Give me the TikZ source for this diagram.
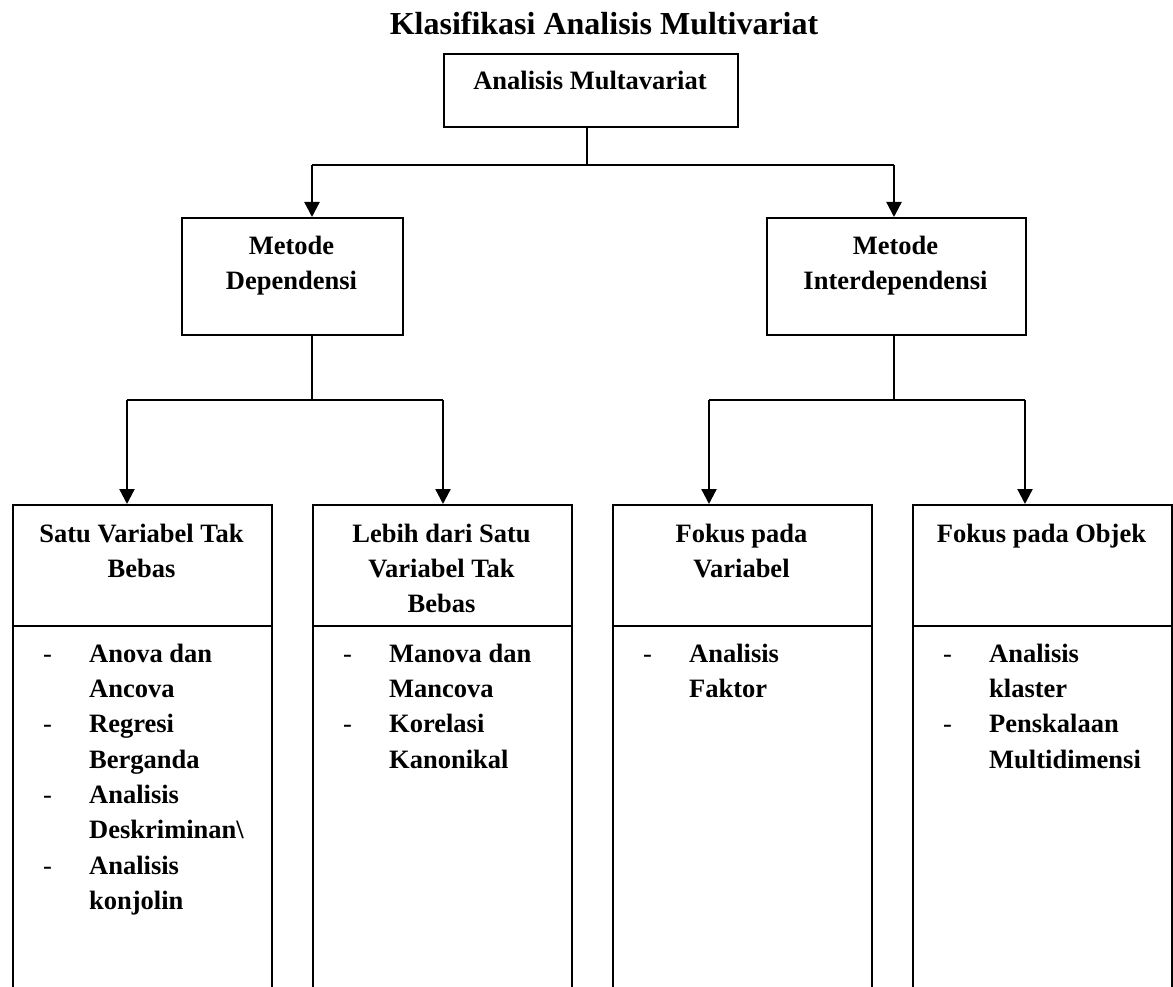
\documentclass[tikz,border=0pt]{standalone}
\usepackage{fontspec}
\setmainfont{Liberation Serif}
\usetikzlibrary{arrows.meta}
\tikzset{
    box/.style={draw, line width=1.8pt, inner sep=0pt},
    txt/.style={inner sep=0pt, align=center, font=\bfseries\fontsize{26.5}{35.3}\selectfont},
    lst/.style={inner sep=0pt, anchor=north west, font=\bfseries\fontsize{26.5}{35.3}\selectfont},
    link/.style={line width=1.5pt},
    arr/.style={line width=2.3pt, -{Triangle[width=15pt,length=15pt]}},
}
\newcommand{\itm}{\mdseries -}

\begin{document}
\begin{tikzpicture}[x=1pt, y=-1pt]
        \useasboundingbox (0,0) rectangle (1173,987);
        \clip (0,0) rectangle (1173,987);

        \draw (604,35) node[anchor=base, inner sep=0pt, font=\bfseries\fontsize{32}{38}\selectfont](ttl){Klasifikasi Analisis Multivariat};

        \draw (443,53) node[box, anchor=north west, minimum width=294, minimum height=73](am){};
        \draw (590,90) node[txt, anchor=base](amt){Analisis Multavariat};

        \draw (181,217) node[box, anchor=north west, minimum width=221, minimum height=117](dep){};
        \draw (291.5,229.3) node[txt, anchor=north](dept){\strut Metode\\Dependensi};
        \draw (766,217) node[box, anchor=north west, minimum width=259, minimum height=117](idp){};
        \draw (895.5,229.3) node[txt, anchor=north](idpt){\strut Metode\\Interdependensi};

        \coordinate (s0) at (587,165);
        \coordinate (s1) at (312,165);
        \coordinate (s2) at (894,165);
        \draw[link] (am.south -| s0) -- (s0);
        \draw[link] (s1) -- (s2);
        \draw[arr] (s1) -- (s1 |- dep.north);
        \draw[arr] (s2) -- (s2 |- idp.north);

        \draw (12,504) node[box, anchor=north west, minimum width=259, minimum height=121](sv){};
        \draw (12,625) node[box, anchor=north west, minimum width=259, minimum height=400](svb){};
        \draw (141.5,517.3) node[txt, anchor=north](svt){\strut Satu Variabel Tak\\Bebas};
        \draw (43,637.3) node[lst](svl){\begin{tabular}{@{}p{46pt}@{}l@{}}
            \itm & Anova dan\\ & Ancova\\
            \itm & Regresi\\ & Berganda\\
            \itm & Analisis\\ & Deskriminan\textbackslash\\
            \itm & Analisis\\ & konjolin
        \end{tabular}};

        \draw (312,504) node[box, anchor=north west, minimum width=259, minimum height=121](lb){};
        \draw (312,625) node[box, anchor=north west, minimum width=259, minimum height=400](lbb){};
        \draw (441.5,517.3) node[txt, anchor=north](lbt){\strut Lebih dari Satu\\Variabel Tak\\Bebas};
        \draw (343,637.3) node[lst](lbl){\begin{tabular}{@{}p{46pt}@{}l@{}}
            \itm & Manova dan\\ & Mancova\\
            \itm & Korelasi\\ & Kanonikal
        \end{tabular}};

        \draw (612,504) node[box, anchor=north west, minimum width=259, minimum height=121](fv){};
        \draw (612,625) node[box, anchor=north west, minimum width=259, minimum height=400](fvb){};
        \draw (741.5,517.3) node[txt, anchor=north](fvt){\strut Fokus pada\\Variabel};
        \draw (643,637.3) node[lst](fvl){\begin{tabular}{@{}p{46pt}@{}l@{}}
            \itm & Analisis\\ & Faktor
        \end{tabular}};

        \draw (912,504) node[box, anchor=north west, minimum width=259, minimum height=121](fo){};
        \draw (912,625) node[box, anchor=north west, minimum width=259, minimum height=400](fob){};
        \draw (1041.5,517.3) node[txt, anchor=north](fot){\strut Fokus pada Objek};
        \draw (943,637.3) node[lst](fol){\begin{tabular}{@{}p{46pt}@{}l@{}}
            \itm & Analisis\\ & klaster\\
            \itm & Penskalaan\\ & Multidimensi
        \end{tabular}};

        \coordinate (d0) at (312,400);
        \coordinate (d1) at (127,400);
        \coordinate (d2) at (443,400);
        \draw[link] (dep.south -| d0) -- (d0);
        \draw[link] (d1) -- (d2);
        \draw[arr] (d1) -- (d1 |- sv.north);
        \draw[arr] (d2) -- (d2 |- lb.north);

        \coordinate (i0) at (894,400);
        \coordinate (i1) at (709,400);
        \coordinate (i2) at (1025,400);
        \draw[link] (idp.south -| i0) -- (i0);
        \draw[link] (i1) -- (i2);
        \draw[arr] (i1) -- (i1 |- fv.north);
        \draw[arr] (i2) -- (i2 |- fo.north);
    \end{tikzpicture}
\end{document}
